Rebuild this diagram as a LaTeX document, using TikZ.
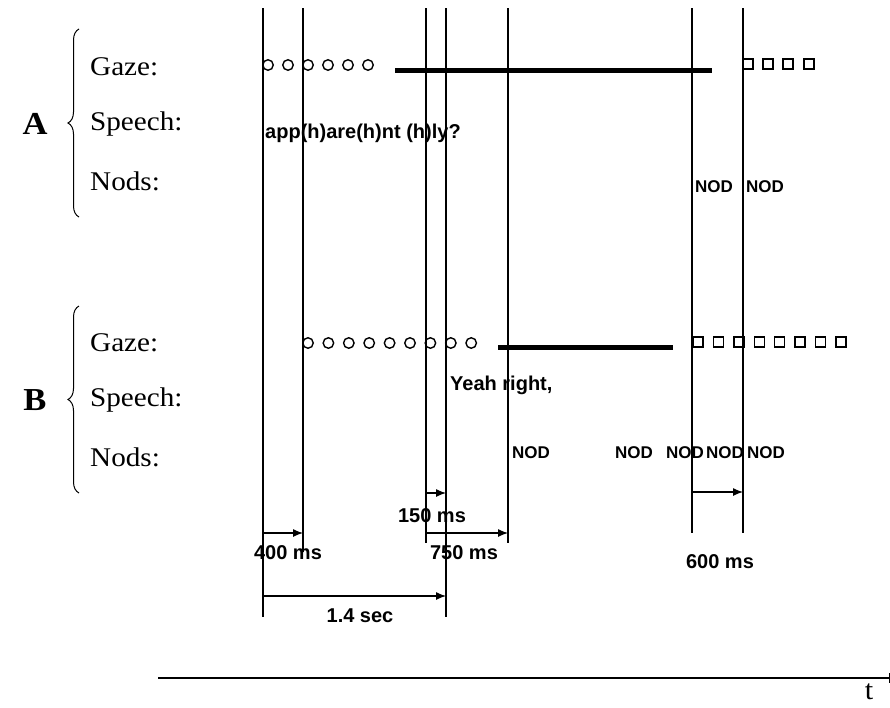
\documentclass[tikz,border=0pt]{standalone}
\usepackage{fontspec}
\setmainfont{Liberation Serif}[FakeStretch=1.08]
\newfontfamily\hsans{Liberation Sans}
\usetikzlibrary{decorations.pathreplacing,arrows.meta}
\begin{document}
\begin{tikzpicture}[x=1pt,y=-1pt,
  tline/.style={line width=1.2pt},
  gazebar/.style={line width=5pt},
  gcirc/.style={circle,draw,line width=1.4pt,minimum size=10.5pt,inner sep=0pt},
  gsq/.style={rectangle,draw,line width=1.4pt,minimum size=10pt,inner sep=0pt},
  rowlab/.style={anchor=west,font=\fontsize{27}{30}\selectfont,inner sep=0pt},
  grp/.style={font=\bfseries\fontsize{32}{34}\selectfont,inner sep=0pt},
  dat/.style={anchor=west,font=\hsans\bfseries\fontsize{20}{22}\selectfont,inner sep=0pt},
  nod/.style={anchor=west,font=\hsans\bfseries\fontsize{17}{19}\selectfont,inner sep=0pt},
  dur/.style={font=\hsans\bfseries\fontsize{20}{22}\selectfont,inner sep=0pt},
  durarrow/.style={line width=1.2pt,-{Latex[length=10pt,width=8pt]}},
  bracestyle/.style={line width=1pt,decorate,decoration={brace,amplitude=11pt}},
]
\useasboundingbox (0,0) rectangle (890,707);

% row labels
\node[grp] (A) at (35,124) {A};
\node[rowlab] (gA) at (90,67) {Gaze:};
\node[rowlab] (sA) at (90,124) {Speech:};
\node[rowlab] (nA) at (90,181) {Nods:};
\coordinate (bAt) at (79,29);
\coordinate (bAb) at (79,217);
\draw[bracestyle] (bAb) -- (bAt);

\node[grp] (B) at (35,400) {B};
\node[rowlab] (gB) at (90,343) {Gaze:};
\node[rowlab] (sB) at (90,400) {Speech:};
\node[rowlab] (nB) at (90,457) {Nods:};
\coordinate (bBt) at (79,306);
\coordinate (bBb) at (79,493);
\draw[bracestyle] (bBb) -- (bBt);

% time lines
\foreach \n/\x/\yb in {1/263/617,2/303/552,3/426/543,4/446/617,5/508/543,6/692/533,7/743/533}{
  \coordinate (L\n t) at (\x,8);
  \coordinate (L\n b) at (\x,\yb);
  \draw[tline] (L\n t) -- (L\n b);
}

% A gaze
\foreach \x [count=\i] in {268,288,308,328,348,368}
  \node[gcirc] (gac\i) at (\x,65) {};
\coordinate (barAs) at (395,70);
\coordinate (barAe) at (712,70);
\draw[gazebar] (barAs) -- (barAe);
\foreach \x [count=\i] in {748,768,788,809}
  \node[gsq] (gas\i) at (\x,64) {};

% A speech and nods
\node[dat] (spA) at (265,133) {app(h)are(h)nt (h)ly?};
\node[nod] (nodA1) at (695,187) {NOD};
\node[nod] (nodA2) at (746,187) {NOD};

% B gaze
\foreach \i in {0,...,8}
  \node[gcirc] (gbc\i) at (308+20.4*\i,343) {};
\coordinate (barBs) at (498,347);
\coordinate (barBe) at (673,347);
\draw[gazebar] (barBs) -- (barBe);
\foreach \i in {0,...,7}
  \node[gsq] (gbs\i) at (698+20.4*\i,342) {};

% B speech and nods
\node[dat] (spB) at (450,385) {Yeah right,};
\node[nod] (nodB1) at (512,453) {NOD};
\node[nod] (nodB2) at (615,453) {NOD};
\node[nod] (nodB3) at (666,453) {NOD};
\node[nod] (nodB4) at (706,453) {NOD};
\node[nod] (nodB5) at (747,453) {NOD};

% durations
\coordinate (d150s) at (426,493); \coordinate (d150e) at (446,493);
\draw[durarrow] (d150s) -- (d150e);
\node[dur] (t150) at (432,516) {150 ms};

\coordinate (d400s) at (263,533); \coordinate (d400e) at (303,533);
\draw[durarrow] (d400s) -- (d400e);
\node[dur] (t400) at (288,553) {400 ms};

\coordinate (d750s) at (426,533); \coordinate (d750e) at (508,533);
\draw[durarrow] (d750s) -- (d750e);
\node[dur] (t750) at (464,553) {750 ms};

\coordinate (d600s) at (692,492); \coordinate (d600e) at (743,492);
\draw[durarrow] (d600s) -- (d600e);
\node[dur] (t600) at (720,562) {600 ms};

\coordinate (d14s) at (263,596); \coordinate (d14e) at (446,596);
\draw[durarrow] (d14s) -- (d14e);
\node[dur] (t14) at (360,616) {1.4 sec};

% time axis
\coordinate (ax0) at (158,678);
\coordinate (ax1) at (889,678);
\draw[line width=1.4pt] (ax0) -- (ax1);
\coordinate (tk0) at (889,673);
\coordinate (tk1) at (889,683);
\draw[line width=1pt] (tk0) -- (tk1);
\node[font=\fontsize{28}{30}\selectfont,inner sep=0pt] (tlab) at (869,692) {t};
\end{tikzpicture}
\end{document}
